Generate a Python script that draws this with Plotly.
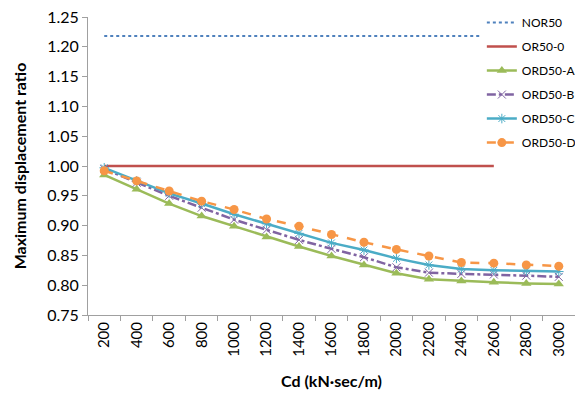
import plotly.graph_objects as go

cd = ["200", "400", "600", "800", "1000", "1200", "1400", "1600", "1800",
      "2000", "2200", "2400", "2600", "2800", "3000"]
nor50 = [1.218] * 13
or50_0 = [1.0] * 13
ord50_a = [0.985, 0.961, 0.937, 0.916, 0.899, 0.881, 0.865, 0.849, 0.834,
           0.820, 0.810, 0.807, 0.805, 0.803, 0.802]
ord50_b = [0.995, 0.972, 0.950, 0.930, 0.910, 0.893, 0.876, 0.861, 0.847,
           0.830, 0.821, 0.819, 0.818, 0.816, 0.814]
ord50_c = [0.997, 0.975, 0.954, 0.937, 0.919, 0.903, 0.887, 0.871, 0.859,
           0.845, 0.834, 0.827, 0.825, 0.824, 0.823]
ord50_d = [0.992, 0.975, 0.958, 0.941, 0.927, 0.911, 0.899, 0.885, 0.872,
           0.860, 0.849, 0.838, 0.837, 0.834, 0.832]

FONT = "Lato"
fig = go.Figure()
fig.add_trace(go.Scatter(x=cd[:13], y=nor50, name="NOR50", mode="lines", legendgroup="g1",
                         line=dict(color="#4F81BD", width=2, dash="dot")))
fig.add_trace(go.Scatter(x=cd[:13], y=or50_0, name="OR50-0", mode="lines", legendgroup="g2",
                         line=dict(color="#C0504D", width=2.5)))
fig.add_trace(go.Scatter(x=cd, y=ord50_a, name="ORD50-A", mode="lines+markers", legendgroup="g3",
                         line=dict(color="#9BBB59", width=2.5),
                         marker=dict(symbol="triangle-up", size=9, color="#9BBB59")))
fig.add_trace(go.Scatter(x=cd, y=ord50_b, name="ORD50-B", mode="lines+markers", legendgroup="g4",
                         line=dict(color="#8064A2", width=2.5, dash="dashdot"),
                         marker=dict(symbol="x-thin", size=8,
                                     line=dict(color="#8064A2", width=1))))
fig.add_trace(go.Scatter(x=cd, y=ord50_c, name="ORD50-C", mode="lines+markers", legendgroup="g5",
                         line=dict(color="#4BACC6", width=2.5),
                         marker=dict(symbol="asterisk", size=8,
                                     line=dict(color="#4BACC6", width=1))))
fig.add_trace(go.Scatter(x=cd, y=ord50_d, name="ORD50-D", mode="lines+markers", legendgroup="g6",
                         line=dict(color="#F79646", width=2.5, dash="dash"),
                         marker=dict(symbol="circle", size=9, color="#F79646")))

fig.update_layout(
    width=575, height=398,
    margin=dict(l=88, r=0, t=17, b=83, autoexpand=False),
    paper_bgcolor="white", plot_bgcolor="white",
    font=dict(family=FONT, color="#000000"),
    legend=dict(x=1.012, xanchor="right", y=1.03, yanchor="top",
                bgcolor="rgba(255,255,255,1)", font=dict(size=12, family=FONT),
                itemwidth=30, borderwidth=0, tracegroupgap=5),
    xaxis=dict(type="category", range=[-0.5, 14.5], showgrid=False,
               showline=True, linecolor="#A0A0A0", linewidth=1,
               ticks="outside", tickcolor="#A0A0A0", ticklen=5,
               tickson="boundaries", tickangle=-90,
               tickfont=dict(size=15, family=FONT),
               title=dict(text="<b>Cd (kN·sec/m)</b>", font=dict(size=16, family=FONT),
                          standoff=19)),
    yaxis=dict(range=[0.75, 1.25], dtick=0.05, tickformat=".2f", showgrid=False,
               showline=True, linecolor="#A0A0A0", linewidth=1,
               ticks="outside", tickcolor="#A0A0A0", ticklen=5,
               tickfont=dict(size=16, family=FONT),
               title=dict(text="<b>Maximum displacement ratio</b>",
                          font=dict(size=16, family=FONT), standoff=16)),
)

fig.write_html("out.html")
